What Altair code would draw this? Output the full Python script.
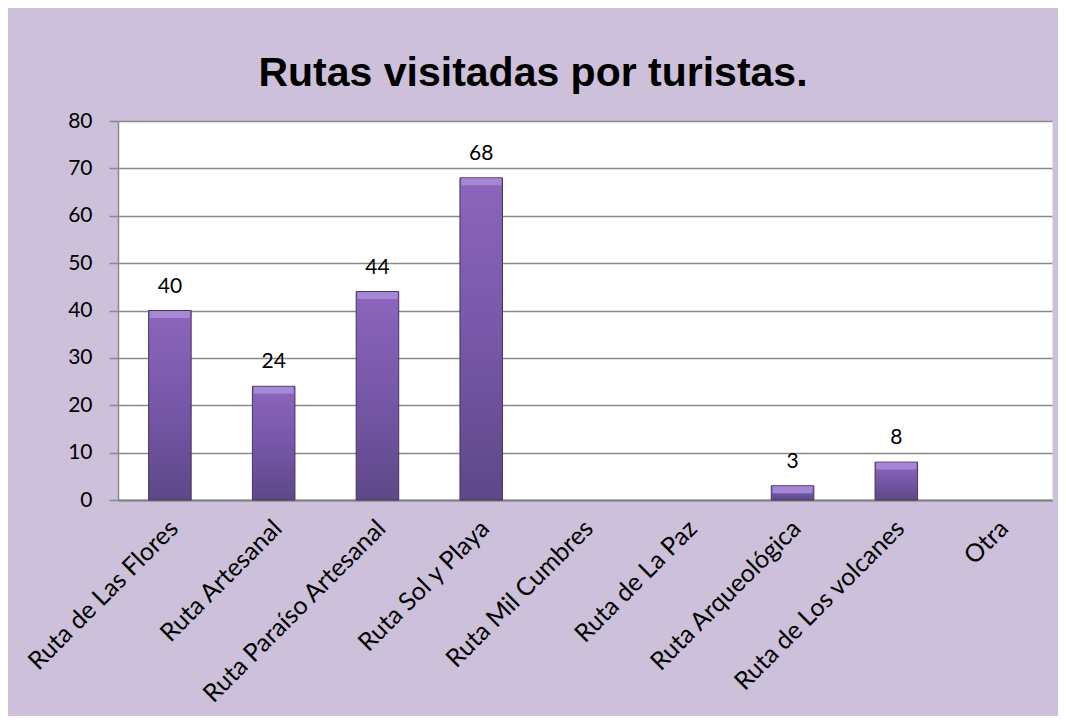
import altair as alt
import pandas as pd

categorias = [
    "Ruta de Las Flores",
    "Ruta Artesanal",
    "Ruta Paraíso Artesanal",
    "Ruta Sol y Playa",
    "Ruta Mil Cumbres",
    "Ruta de La Paz",
    "Ruta Arqueológica",
    "Ruta de Los volcanes",
    "Otra",
]
valores = [40, 24, 44, 68, 0, 0, 3, 8, 0]
y_ticks = [0, 10, 20, 30, 40, 50, 60, 70, 80]
titulo = "Rutas visitadas por turistas."

df = pd.DataFrame({"ruta": categorias, "turistas": valores})

FONT = "Lato, Carlito, Calibri, sans-serif"
GRAY = "#8a8a8a"

x_enc = alt.X(
    "ruta:N",
    scale=alt.Scale(domain=categorias, paddingInner=0.59, paddingOuter=0.295),
    axis=alt.Axis(
        title=None,
        labelAngle=-45,
        labelAlign="right",
        labelBaseline="middle",
        labelPadding=24,
        labelOffset=4,
        ticks=False,
        domainColor="#808080",
        domainWidth=2,
        labelFont=FONT,
        labelFontSize=25,
        labelColor="black",
        labelLimit=0,
        grid=False,
    ),
)
y_enc = alt.Y(
    "turistas:Q",
    scale=alt.Scale(domain=[0, 80], nice=False),
    axis=alt.Axis(
        title=None,
        values=y_ticks,
        tickSize=9,
        tickColor=GRAY,
        tickWidth=1.5,
        domainColor=GRAY,
        domainWidth=1.5,
        grid=True,
        gridColor=GRAY,
        gridWidth=1.5,
        labelPadding=17,
        labelFont=FONT,
        labelFontSize=21,
        labelColor="black",
    ),
)

gradiente = alt.Gradient(
    gradient="linear",
    stops=[
        alt.GradientStop(color="#8C66BC", offset=0),
        alt.GradientStop(color="#7757A8", offset=0.5),
        alt.GradientStop(color="#5E4888", offset=1),
    ],
    x1=0, x2=0, y1=0, y2=1,
)

base = alt.Chart(df).transform_filter("datum.turistas > 0")

bars = base.mark_bar(color=gradiente, stroke="#45365f", strokeWidth=1).encode(x=x_enc, y=y_enc)
bevel = base.mark_tick(color="#A98CD8", thickness=7, yOffset=4, size=40, opacity=0.9).encode(x=x_enc, y=y_enc)
labels = base.mark_text(dy=-18, font=FONT, fontSize=21, color="black", baseline="alphabetic").encode(
    x=x_enc, y=y_enc, text="turistas:Q"
)

chart = (
    alt.layer(bars, bevel, labels)
    .properties(
        width=934,
        height=379,
        title=alt.TitleParams(
            text=titulo,
            font="Liberation Sans, Arial, sans-serif",
            fontSize=41,
            fontWeight="bold",
            color="black",
            anchor="middle",
            frame="group",
            dx=-52,
            dy=43,
            offset=26,
            baseline="alphabetic",
        ),
        background="#CCC0DA",
        padding={"left": 110, "top": 113, "right": 6, "bottom": 216},
        autosize=alt.AutoSizeParams(type="none"),
    )
    .configure_view(fill="white", strokeOpacity=0)
)

chart.save("out.html", embed_options={"renderer": "svg", "actions": False})
